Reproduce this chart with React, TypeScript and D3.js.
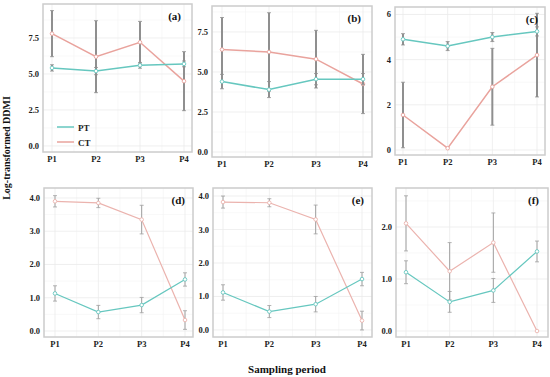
import React from 'react';
import * as d3 from 'd3';

const periods = ['P1', 'P2', 'P3', 'P4'];

const ptA = [5.42, 5.2, 5.6, 5.7];
const ptAErr = [0.22, 0.25, 0.2, 0.2];
const ctA = [7.8, 6.2, 7.2, 4.5];
const ctAErr = [1.6, 2.5, 1.45, 2.05];

const ptB = [4.4, 3.9, 4.55, 4.55];
const ptBErr = [0.45, 0.5, 0.35, 0.35];
const ctB = [6.4, 6.25, 5.8, 4.25];
const ctBErr = [2.0, 2.45, 1.8, 1.85];

const ptC = [4.9, 4.6, 5.0, 5.25];
const ptCErr = [0.25, 0.2, 0.2, 0.2];
const ctC = [1.55, 0.08, 2.8, 4.2];
const ctCErr = [1.45, 0, 1.7, 1.85];

const ptD = [1.13, 0.57, 0.78, 1.55];
const ptDErr = [0.23, 0.2, 0.23, 0.2];
const ctD = [3.9, 3.85, 3.35, 0.33];
const ctDErr = [0.17, 0.14, 0.43, 0.28];

const ptE = [1.12, 0.55, 0.77, 1.52];
const ptEErr = [0.23, 0.18, 0.23, 0.2];
const ctE = [3.82, 3.8, 3.3, 0.28];
const ctEErr = [0.18, 0.12, 0.43, 0.28];

const ptF = [1.13, 0.56, 0.78, 1.53];
const ptFErr = [0.22, 0.2, 0.23, 0.2];
const ctF = [2.07, 1.15, 1.7, 0.0];
const ctFErr = [0.53, 0.55, 0.57, 0];

const ticks1 = [0, 2.5, 5, 7.5];
const ticks2 = [0, 2, 4, 6];
const ticks3 = [0, 1, 2, 3, 4];
const ticks4 = [0, 1, 2];

const PT_COL = '#66c7bf';
const CT_COL = '#e9a39d';
const CT_COL_LIGHT = '#ebb3ae';
const FONT = '"Liberation Serif", "DejaVu Serif", serif';

type PanelDef = {
  label: string;
  frame: [number, number, number, number]; // x0, x1, y0, y1
  px: [number, number];
  dom: [number, number];
  ticks: number[];
  fmt: (v: number) => string;
  pt: number[]; ptErr: number[]; ct: number[]; ctErr: number[];
  top: boolean;
  labelX: number;
};

const f1 = (v: number) => v.toFixed(1);
const f0 = (v: number) => v.toFixed(0);

const panels: PanelDef[] = [
  { label: '(a)', frame: [43, 192, 4, 152], px: [52, 184], dom: [-0.42, 9.86], ticks: ticks1, fmt: f1, pt: ptA, ptErr: ptAErr, ct: ctA, ctErr: ctAErr, top: true, labelX: 181 },
  { label: '(b)', frame: [212, 372, 6, 157], px: [222, 363], dom: [-0.31, 9.12], ticks: ticks1, fmt: f1, pt: ptB, ptErr: ptBErr, ct: ctB, ctErr: ctBErr, top: true, labelX: 361 },
  { label: '(c)', frame: [395, 545, 7, 155], px: [403, 537], dom: [-0.22, 6.33], ticks: ticks2, fmt: f0, pt: ptC, ptErr: ptCErr, ct: ctC, ctErr: ctCErr, top: true, labelX: 538 },
  { label: '(d)', frame: [44, 193, 188, 337], px: [55, 185], dom: [-0.18, 4.3], ticks: ticks3, fmt: f1, pt: ptD, ptErr: ptDErr, ct: ctD, ctErr: ctDErr, top: false, labelX: 185 },
  { label: '(e)', frame: [213, 372, 188, 337], px: [223, 362], dom: [-0.21, 4.24], ticks: ticks3, fmt: f1, pt: ptE, ptErr: ptEErr, ct: ctE, ctErr: ctEErr, top: false, labelX: 364 },
  { label: '(f)', frame: [396, 548, 188, 337], px: [406, 537], dom: [-0.115, 2.75], ticks: ticks4, fmt: f1, pt: ptF, ptErr: ptFErr, ct: ctF, ctErr: ctFErr, top: false, labelX: 539 },
];

const Panel: React.FC<{ p: PanelDef; legend?: boolean }> = ({ p, legend }) => {
  const [x0, x1, y0, y1] = p.frame;
  const x = d3.scalePoint<string>().domain(periods).range(p.px);
  const y = d3.scaleLinear().domain(p.dom).range([y1, y0]);
  const step = p.ticks[1] - p.ticks[0];
  const minor = d3.range(p.ticks[0] - step / 2, p.dom[1], step).filter(v => v > p.dom[0] && v < p.dom[1]);
  const xs = periods.map(d => x(d) as number);
  const xMinor = xs.slice(0, -1).map((v, i) => (v + xs[i + 1]) / 2);
  const line = d3.line<number>().x((_, i) => xs[i]).y(v => y(v));
  const errW = p.top ? 2 : 1;
  const errCol = p.top ? '#8f8f8f' : '#a0a0a0';
  const lw = p.top ? 1.5 : 1.2;

  const series = [
    { vals: p.ct, err: p.ctErr, col: p.top ? CT_COL : CT_COL_LIGHT },
    { vals: p.pt, err: p.ptErr, col: PT_COL },
  ];

  return (
    <g>
      <rect x={x0} y={y0} width={x1 - x0} height={y1 - y0} fill="#fff" />
      {minor.map((v, i) => (
        <line key={'ym' + i} x1={x0} x2={x1} y1={y(v)} y2={y(v)} stroke="#f3f3f3" strokeWidth={0.6} />
      ))}
      {xMinor.map((v, i) => (
        <line key={'xm' + i} x1={v} x2={v} y1={y0} y2={y1} stroke="#f3f3f3" strokeWidth={0.6} />
      ))}
      {p.ticks.map((v, i) => (
        <line key={'yg' + i} x1={x0} x2={x1} y1={y(v)} y2={y(v)} stroke="#ebebeb" strokeWidth={0.8} />
      ))}
      {xs.map((v, i) => (
        <line key={'xg' + i} x1={v} x2={v} y1={y0} y2={y1} stroke="#ebebeb" strokeWidth={0.8} />
      ))}
      <rect x={x0} y={y0} width={x1 - x0} height={y1 - y0} fill="none" stroke="#cccccc" strokeWidth={1.5} />

      {series.map((s, si) => (
        <g key={'s' + si}>
          <path d={line(s.vals) || ''} fill="none" stroke={s.col} strokeWidth={lw} />
          {s.vals.map((v, i) =>
            s.err[i] > 0 ? (
              <g key={'e' + i} stroke={errCol} strokeWidth={errW}>
                <line x1={xs[i]} x2={xs[i]} y1={y(Math.max(v - s.err[i], p.top ? -1 : 0))} y2={y(v + s.err[i])} />
                <line x1={xs[i] - 2} x2={xs[i] + 2} y1={y(v + s.err[i])} y2={y(v + s.err[i])} strokeWidth={0.8} />
                <line x1={xs[i] - 2} x2={xs[i] + 2} y1={y(Math.max(v - s.err[i], 0))} y2={y(Math.max(v - s.err[i], 0))} strokeWidth={0.8} />
              </g>
            ) : null
          )}
          {s.vals.map((v, i) => (
            <circle key={'c' + i} cx={xs[i]} cy={y(v)} r={1.8} fill="#fff" stroke={s.col} strokeWidth={0.9} />
          ))}
        </g>
      ))}

      {p.ticks.map((v, i) => (
        <text key={'yt' + i} x={x0 - 4} y={y(v) + 3} textAnchor="end" fontSize={8.5} fontWeight="bold" fontFamily={FONT} fill="#222">
          {p.fmt(v)}
        </text>
      ))}
      {periods.map((d, i) => (
        <text key={'xt' + i} x={xs[i]} y={y1 + 10} textAnchor="middle" fontSize={8.5} fontWeight="bold" fontFamily={FONT} fill="#222">
          {d}
        </text>
      ))}
      <text x={p.labelX} y={y0 + 16} textAnchor="end" fontSize={11} fontWeight="bold" fontFamily={FONT} fill="#111">
        {p.label}
      </text>

      {legend && (
        <g>
          <line x1={57} x2={74} y1={127} y2={127} stroke={PT_COL} strokeWidth={1.5} />
          <text x={78} y={131} fontSize={9} fontWeight="bold" fontFamily={FONT} fill="#222">PT</text>
          <line x1={57} x2={74} y1={142} y2={142} stroke={CT_COL} strokeWidth={1.5} />
          <text x={78} y={146} fontSize={9} fontWeight="bold" fontFamily={FONT} fill="#222">CT</text>
        </g>
      )}
    </g>
  );
};

export default function App() {
  return (
    <svg width={550} height={377} style={{ position: 'absolute', left: 0, top: 0, background: '#fff' }}>
      <rect x={0} y={0} width={550} height={377} fill="#fff" />
      {panels.map((p, i) => (
        <Panel key={i} p={p} legend={i === 0} />
      ))}
      <text transform="translate(10,148) rotate(-90)" textAnchor="middle" fontSize={10} fontWeight="bold" fontFamily={FONT} fill="#111">
        Log-transformed DDMI
      </text>
      <text x={287} y={373} textAnchor="middle" fontSize={11} fontWeight="bold" fontFamily={FONT} fill="#111">
        Sampling period
      </text>
    </svg>
  );
}
